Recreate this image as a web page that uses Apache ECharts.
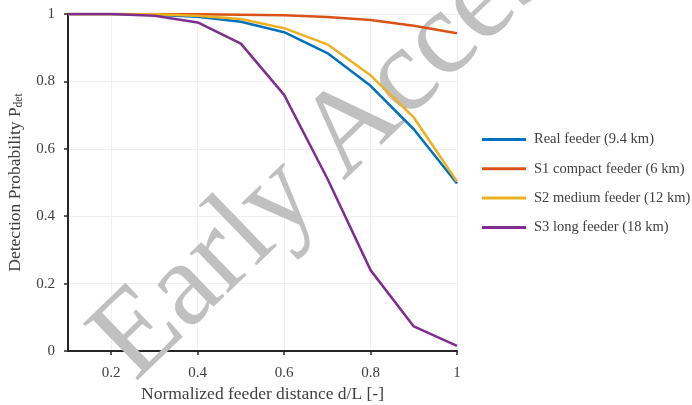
<!DOCTYPE html>
<html>
<head>
<meta charset="utf-8">
<script src="https://cdn.jsdelivr.net/npm/echarts@6/dist/echarts.min.js"></script>
<style>
  html, body { margin: 0; padding: 0; background: #fff; }
  #chart { width: 692px; height: 405px; }
</style>
</head>
<body>
<div id="chart"></div>
<script>
// Normalized distance along the feeder (d/L)
const distance = [0.1, 0.2, 0.3, 0.4, 0.5, 0.6, 0.7, 0.8, 0.9, 1.0];

// Detection probability for each feeder scenario
const realFeeder    = [1.000, 1.000, 0.998, 0.992, 0.977, 0.946, 0.884, 0.787, 0.658, 0.497];
const s1Compact     = [1.000, 1.000, 1.000, 0.999, 0.998, 0.996, 0.991, 0.982, 0.965, 0.943];
const s2Medium      = [1.000, 1.000, 0.999, 0.995, 0.985, 0.958, 0.910, 0.818, 0.693, 0.503];
const s3Long        = [1.000, 1.000, 0.995, 0.975, 0.912, 0.760, 0.512, 0.240, 0.073, 0.015];

const seriesNames = [
  'Real feeder (9.4 km)',
  'S1 compact feeder (6 km)',
  'S2 medium feeder (12 km)',
  'S3 long feeder (18 km)'
];
const seriesValues = [realFeeder, s1Compact, s2Medium, s3Long];
const seriesColors = ['#0072BD', '#D95319', '#EDB120', '#7E2F8E'];

const FONT = '"Liberation Serif", "Times New Roman", serif';
const TEXT = '#404040';

const chart = echarts.init(document.getElementById('chart'), null, { renderer: 'canvas' });

chart.setOption({
  animation: false,
  backgroundColor: '#ffffff',
  textStyle: { fontFamily: FONT },
  grid: { left: 68, right: 235, top: 14, bottom: 54, containLabel: false, outerBoundsMode: 'none' },
  legend: {
    orient: 'vertical',
    left: 477,
    top: 127,
    itemWidth: 44,
    itemHeight: 3,
    itemGap: 14.3,
    icon: 'rect',
    data: seriesNames,
    textStyle: { fontFamily: FONT, fontSize: 14.5, color: TEXT, padding: [0, 0, 0, 3] }
  },
  xAxis: {
    type: 'value',
    min: 0.1,
    max: 1,
    name: 'Normalized feeder distance d/L [-]',
    nameLocation: 'middle',
    nameGap: 31,
    nameTextStyle: { fontFamily: FONT, fontSize: 17.5, color: TEXT },
    axisLine: { show: true, lineStyle: { color: '#262626', width: 2 } },
    axisTick: { show: true, inside: false, length: 4, lineStyle: { color: '#262626', width: 1.5 } },
    axisLabel: { showMinLabel: false, fontFamily: FONT, fontSize: 15, color: TEXT, margin: 15 },
    splitLine: { show: true, lineStyle: { color: '#efefef', width: 1 } }
  },
  yAxis: {
    type: 'value',
    min: 0,
    max: 1,
    interval: 0.2,
    name: '{t|Detection Probability P}{s|det}',
    nameLocation: 'middle',
    nameGap: 32,
    nameTextStyle: {
      fontFamily: FONT, fontSize: 17.5, color: TEXT,
      rich: {
        t: { fontFamily: FONT, fontSize: 17.5, color: TEXT },
        s: { fontFamily: FONT, fontSize: 11.5, color: TEXT, padding: [8, 0, 0, 0] }
      }
    },
    axisLine: { show: true, lineStyle: { color: '#262626', width: 2 } },
    axisTick: { show: true, inside: false, length: 4, lineStyle: { color: '#262626', width: 1.5 } },
    axisLabel: { fontFamily: FONT, fontSize: 15, color: TEXT, margin: 13 },
    splitLine: { show: true, lineStyle: { color: '#efefef', width: 1 } }
  },
  // Diagonal "Early Access" watermark behind the curves
  graphic: [{
    type: 'text',
    z: 1,
    x: 113,
    y: 360,
    rotation: 44 * Math.PI / 180,
    silent: true,
    style: {
      text: 'Early Access',
      fontFamily: FONT,
      fontSize: 120,
      fill: '#c0c0c0',
      align: 'left',
      verticalAlign: 'middle'
    }
  }],
  series: seriesNames.map((name, i) => ({
    name: name,
    type: 'line',
    z: 3,
    symbol: 'none',
    smooth: false,
    lineStyle: { color: seriesColors[i], width: 2.5 },
    itemStyle: { color: seriesColors[i] },
    data: distance.map((d, j) => [d, seriesValues[i][j]])
  }))
});
</script>
</body>
</html>
